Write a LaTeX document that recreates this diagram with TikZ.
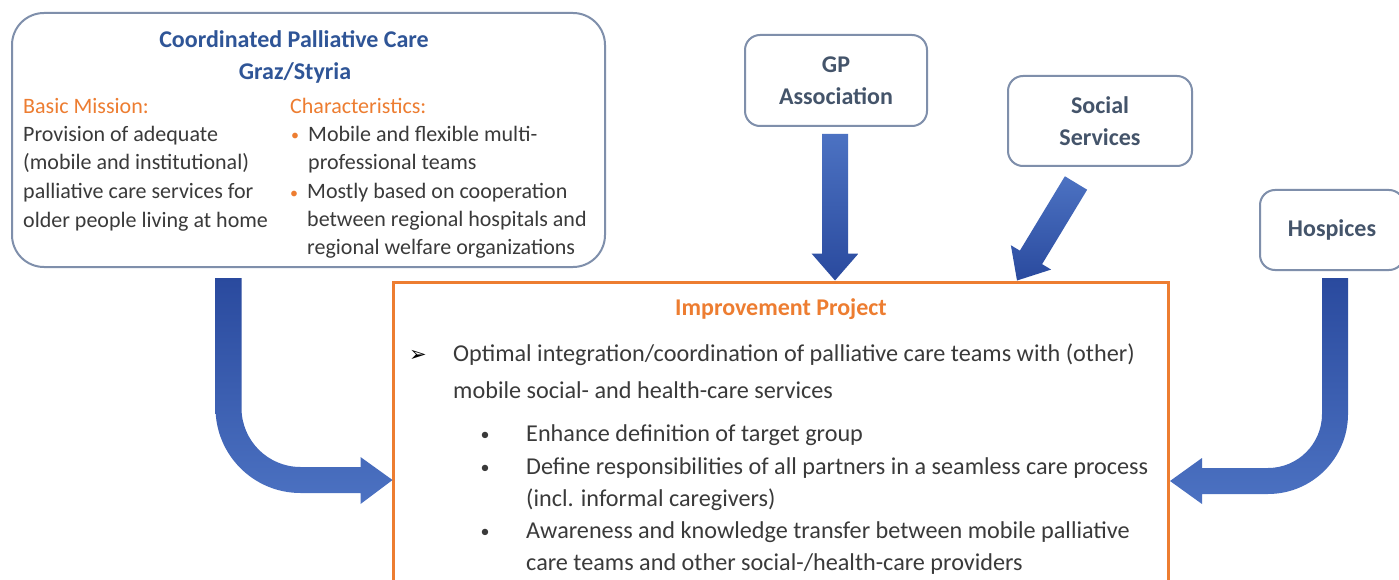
\documentclass[tikz,border=0pt]{standalone}
\usepackage{fontspec}
\setmainfont{Carlito}
\newfontfamily\dejavu{DejaVu Sans}
\usetikzlibrary{calc}
\definecolor{titleblue}{HTML}{2F5597}
\definecolor{boxtext}{HTML}{44546A}
\definecolor{boxline}{HTML}{7F8FAB}
\definecolor{orangeA}{HTML}{ED7D31}
\definecolor{bodytext}{HTML}{3A3A3A}
\definecolor{arrowDark}{HTML}{2A4A9E}
\definecolor{arrowLight}{HTML}{4C72C2}
\tikzset{
  body/.style={anchor=base west, inner sep=0pt, text=bodytext, font=\fontsize{22}{28}\selectfont},
  pbody/.style={anchor=base west, inner sep=0pt, text=bodytext, font=\fontsize{24.2}{30}\selectfont},
  hdr/.style={anchor=base west, inner sep=0pt, text=orangeA, font=\fontsize{22}{28}\selectfont},
  titletext/.style={anchor=base, inner sep=0pt, text=titleblue, font=\bfseries\fontsize{24}{32}\selectfont},
  ptitle/.style={anchor=base, inner sep=0pt, text=orangeA, font=\bfseries\fontsize{24}{32}\selectfont},
  obullet/.style={anchor=base, inner sep=0pt, text=orangeA, font=\fontsize{16}{28}\selectfont},
  kbullet/.style={anchor=base, inner sep=0pt, text=bodytext, font=\fontsize{18}{28}\selectfont},
  abullet/.style={anchor=base, inner sep=0pt, text=black, font=\dejavu\fontsize{21}{24}\selectfont},
  bigbox/.style={draw=boxline, line width=2pt, rounded corners=32pt, fill=white, inner sep=0pt},
  smallbox/.style={draw=boxline, line width=2pt, rounded corners=15pt, fill=white, inner sep=0pt,
    align=center, text=boxtext, font=\bfseries\fontsize{24}{32}\selectfont},
  projbox/.style={draw=orangeA, line width=3pt, fill=white, inner sep=0pt},
  straightshade/.style={top color=arrowLight, bottom color=arrowDark},
  curveshade/.style={top color=arrowDark, bottom color=arrowLight},
}
\newcommand\fatstraight[3]{%
  \coordinate (#1h) at ($(#2)!27pt!(#1)$);
  \path[#3] ($(#1)!13pt!90:(#2)$) -- ($(#1h)!13pt!90:(#2)$) -- ($(#1h)!23.5pt!90:(#2)$)
    -- (#2) -- ($(#1h)!23.5pt!-90:(#2)$) -- ($(#1h)!13pt!-90:(#2)$) -- ($(#1)!13pt!-90:(#2)$) -- cycle;
}
\begin{document}
\begin{tikzpicture}[x=1pt,y=-1pt]
\useasboundingbox (0,0) rectangle (1399,580);
\clip (0,0) rectangle (1399,580);
\fill[white] (0,0) rectangle (1399,580);

% boxes
\node[bigbox, minimum width=593pt, minimum height=254pt] (cpc) at (308.5,140) {};
\node[smallbox, minimum width=182pt, minimum height=91pt] (gp) at (836,80.5) {GP\\Association};
\node[smallbox, minimum width=184pt, minimum height=90pt] (ss) at (1100,121) {Social\\Services};
\node[smallbox, minimum width=144pt, minimum height=80pt] (hosp) at (1332,230) {Hospices};
\node[projbox, minimum width=775pt, minimum height=340pt] (proj) at (780.5,452) {};

% top-left box texts
\node[titletext] (t1) at (294,48) {Coordinated Palliative Care};
\node[titletext] (t2) at (295,80) {Graz/Styria};
\node[hdr] (bm) at (23,114) {Basic Mission:};
\node[body] (bm1) at (23,142) {Provision of adequate};
\node[body] (bm2) at (23,170) {(mobile and institutional)};
\node[body] (bm3) at (23,199) {palliative care services for};
\node[body] (bm4) at (23,227) {older people living at home};
\node[hdr] (ch) at (290,114) {Characteristics:};
\node[obullet] (cb1) at (295,141) {•};
\node[body] (ch1) at (308,142) {Mobile and flexible multi-};
\node[body] (ch2) at (308,170) {professional teams};
\node[obullet] (cb2) at (294,198) {•};
\node[body] (ch3) at (307,199) {Mostly based on cooperation};
\node[body] (ch4) at (307,226) {between regional hospitals and};
\node[body] (ch5) at (307,254) {regional welfare organizations};

% project texts
\node[ptitle] (pt) at (781,315) {Improvement Project};
\node[abullet] (ab) at (418,361) {➢};
\node[pbody] (p1) at (453,361) {Optimal integration/coordination of palliative care teams with (other)};
\node[pbody] (p2) at (453,398) {mobile social- and health-care services};
\node[kbullet] (kb1) at (485,440) {•};
\node[pbody] (s1) at (526,441) {Enhance definition of target group};
\node[kbullet] (kb2) at (485,473) {•};
\node[pbody] (s2) at (526,474) {Define responsibilities of all partners in a seamless care process};
\node[pbody] (s3) at (526,506) {(incl. informal caregivers)};
\node[kbullet] (kb3) at (485,537) {•};
\node[pbody] (s4) at (526,538) {Awareness and knowledge transfer between mobile palliative};
\node[pbody] (s5) at (526,570) {care teams and other social-/health-care providers};

% straight arrows
\coordinate (gpT) at ($(gp.south)+(-1,7)$);
\coordinate (gpP) at (gpT |- proj.north);
\fatstraight{gpT}{gpP}{straightshade}
\coordinate (ssT) at ($(ss.south)+(-24,16)$);
\coordinate (ssP) at ($(proj.north)+(236.5,0)$);
\fatstraight{ssT}{ssP}{straightshade}

% curved arrow from the left box
\coordinate (lA) at ($(cpc.south)+(-80,10)$);
\begin{scope}[shift={(lA)}]
\path[curveshade]
  (-13,0) -- (-13,130) arc[start angle=180, end angle=90, radius=85]
  -- (132,215) -- (132,226) -- (164,202) -- (132,179) -- (132,189) -- (72,189)
  arc[start angle=90, end angle=180, radius=59] -- (13,0) -- cycle;
\end{scope}

% curved arrow from Hospices
\coordinate (rA) at ($(hosp.south)+(3,7)$);
\begin{scope}[shift={(rA)}]
\path[curveshade]
  (13,0) -- (13,136) arc[start angle=0, end angle=90, radius=80]
  -- (-133,216) -- (-133,226) -- (-165,203) -- (-133,180) -- (-133,190) -- (-67,190)
  arc[start angle=90, end angle=0, radius=54] -- (-13,0) -- cycle;
\end{scope}
\end{tikzpicture}
\end{document}
